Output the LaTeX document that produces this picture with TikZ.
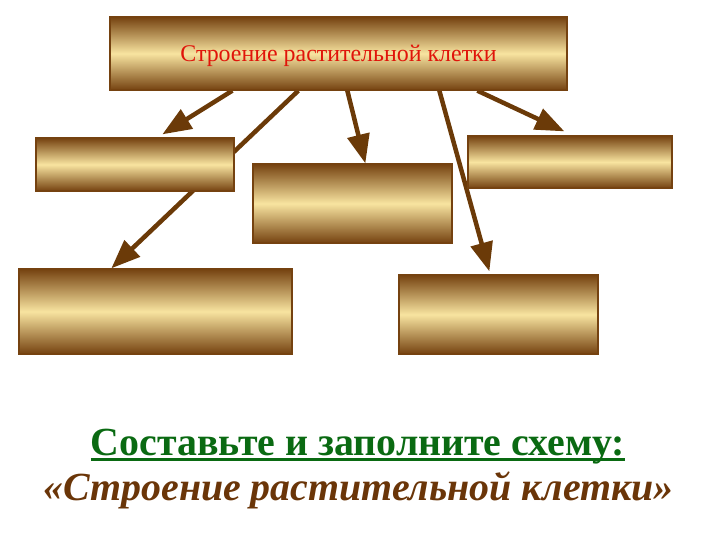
\documentclass[tikz,border=0pt]{standalone}
\usepackage{fontspec}
\setmainfont{Liberation Serif}
\usepackage{tikz}
\usetikzlibrary{arrows.meta}
\definecolor{boxdark}{HTML}{754210}
\definecolor{boxlight}{HTML}{F8E4A0}
\definecolor{arrowbrown}{HTML}{6B3A08}
\definecolor{titlered}{HTML}{E0140A}
\definecolor{taskgreen}{HTML}{0A6A12}
\definecolor{taskbrown}{HTML}{6A3508}
\pgfdeclarelayer{back}
\pgfsetlayers{back,main}
\newsavebox{\taskbox}
\newcommand{\taskline}[1]{\sbox{\taskbox}{#1}\rlap{\rule[-6bp]{\wd\taskbox}{2.6bp}}\usebox{\taskbox}}

\begin{document}
\begin{tikzpicture}[x=1bp, y=-1bp]
\tikzstyle{goldbox} = [draw=boxdark, line width=1.3bp, top color=boxdark, bottom color=boxdark, middle color=boxlight, inner sep=0pt]
\tikzstyle{branch} = [draw=arrowbrown, line width=4.5bp, -{Triangle[length=29bp, width=22bp]}]
\useasboundingbox (0,0) rectangle (720,540);
% top box and the empty boxes
\node[goldbox, minimum width=457bp, minimum height=73bp, text depth=0pt, font=\fontsize{24}{28}\selectfont, text=titlered] (cell) at (338.5,53.5) {Строение растительной клетки};
\node[goldbox, minimum width=198bp, minimum height=53bp] (wall) at (135,164.5) {};
\node[goldbox, minimum width=199bp, minimum height=79bp] (core) at (352.5,203.5) {};
\node[goldbox, minimum width=204bp, minimum height=52bp] (vac) at (570,162) {};
\node[goldbox, minimum width=273bp, minimum height=85bp] (cyto) at (155.5,311.5) {};
\node[goldbox, minimum width=199bp, minimum height=79bp] (plast) at (498.5,314.5) {};
% arrows behind the boxes
\begin{pgfonlayer}{back}
\draw[branch] ([xshift=123bp]cell.south west) -- ([xshift=127bp, yshift=3bp]wall.north west);
\draw[branch] ([xshift=189bp]cell.south west) -- ([xshift=93bp]cyto.north west);
\draw[branch] ([xshift=238bp]cell.south west) -- ([xshift=113bp]core.north west);
\draw[branch] ([xshift=330bp]cell.south west) -- ([xshift=91bp, yshift=3bp]plast.north west);
\draw[branch] ([xshift=368bp]cell.south west) -- ([xshift=97bp, yshift=4bp]vac.north west);
\end{pgfonlayer}
% task text
\node[anchor=base, font=\bfseries\fontsize{40}{44}\selectfont, text=taskgreen] (task) at (358,455) {\taskline{Составьте и заполните схему:}};
\node[anchor=base, font=\bfseries\itshape\fontsize{40}{44}\selectfont, text=taskbrown] (name) at (358.5,500) {«Строение растительной клетки»};
\end{tikzpicture}
\end{document}
